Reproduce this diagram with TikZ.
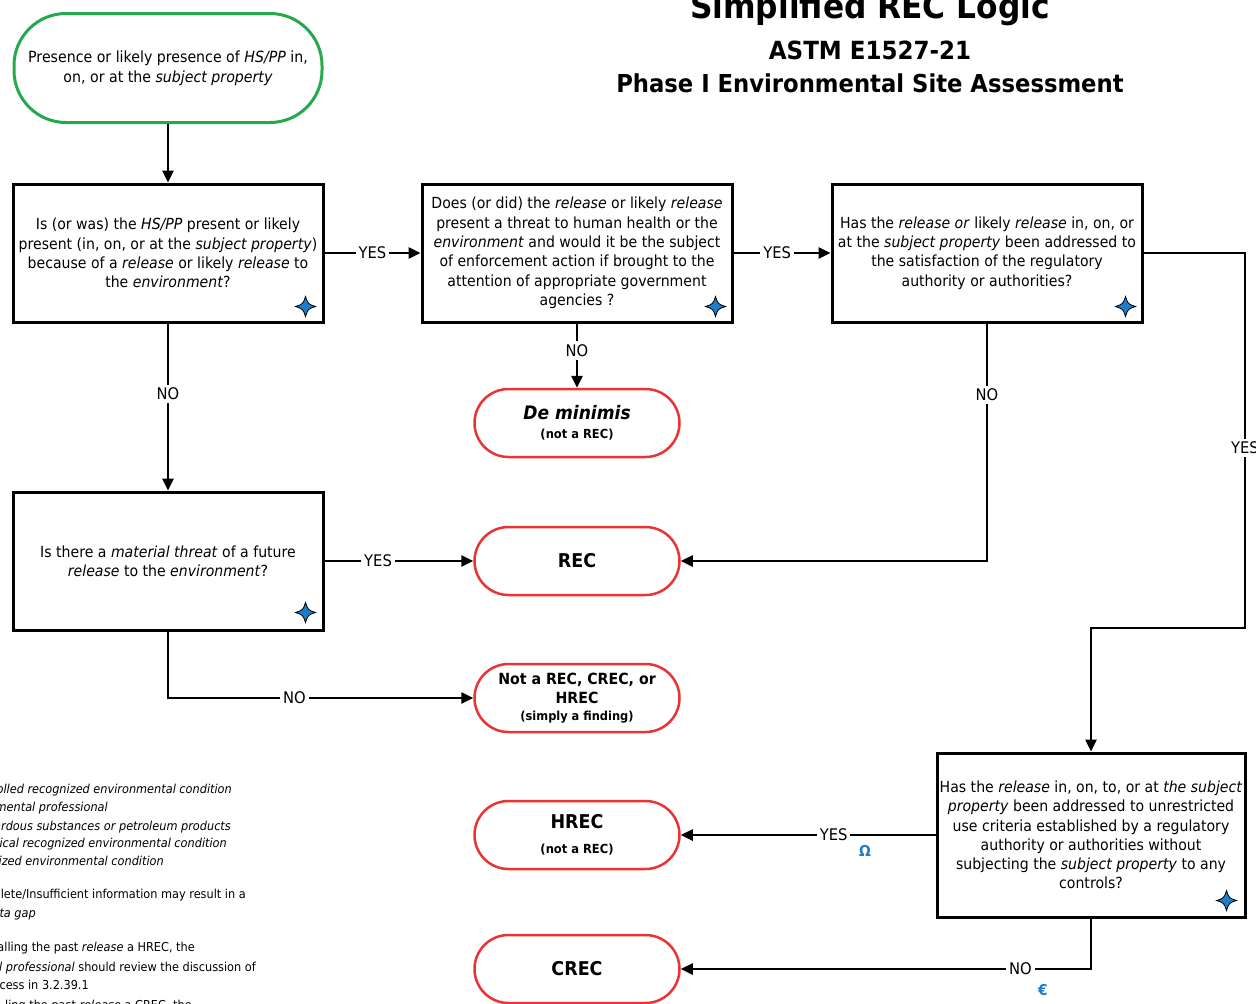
\documentclass[tikz,border=0pt]{standalone}
\usepackage{fontspec}
\setmainfont{DejaVu Sans}[FakeStretch=0.92]
\usetikzlibrary{arrows.meta}
\definecolor{recred}{RGB}{232,52,52}
\definecolor{startgreen}{RGB}{38,168,78}
\definecolor{starblue}{RGB}{30,125,200}
\tikzset{
  qbox/.style={draw=black, line width=3pt, minimum width=310pt, minimum height=138pt, inner sep=0pt, align=center, font=\fontsize{15.3}{19.3}\selectfont},
  endnode/.style={draw=recred, line width=2.5pt, rounded corners=34pt, minimum width=205pt, minimum height=68pt, inner sep=0pt, align=center, font=\bfseries},
  conn/.style={line width=2.5pt, -{Triangle[length=12pt,width=11pt]}},
  lbl/.style={fill=white, inner sep=3pt, font=\fontsize{16}{18}\selectfont},
  legend/.style={anchor=base east, inner sep=0pt, font=\fontsize{12.3}{14}\selectfont},
  sym/.style={text=starblue, font=\bfseries\fontsize{15}{16}\selectfont, inner sep=0pt},
  fourstar/.pic={\filldraw[fill=starblue, draw=black, line width=0.8pt] (0,-10) .. controls (2.5,-2.5) .. (10,0) .. controls (2.5,2.5) .. (0,10) .. controls (-2.5,2.5) .. (-10,0) .. controls (-2.5,-2.5) .. (0,-10) -- cycle;}
}
\begin{document}
\begin{tikzpicture}[x=1pt,y=-1pt]
\useasboundingbox (0,0) rectangle (1256,1004);

% titles
\node[anchor=base, inner sep=0pt, font=\bfseries\fontsize{34}{34}\selectfont] (title) at (870,18) {Simplified REC Logic};
\node[anchor=base, inner sep=0pt, font=\bfseries\fontsize{25}{25}\selectfont] (sub1) at (870,59) {ASTM E1527-21};
\node[anchor=base, inner sep=0pt, font=\bfseries\fontsize{24.7}{25}\selectfont] (sub2) at (870,92) {Phase I Environmental Site Assessment};

% start
\node[draw=startgreen, line width=3pt, rounded corners=52pt, minimum width=308pt, minimum height=109pt, inner sep=0pt, align=center, font=\fontsize{15.4}{19.5}\selectfont] (start) at (168,68)
  {Presence or likely presence of \textit{HS/PP} in,\\ on, or at the \textit{subject property}};

% question boxes
\node[qbox] (b1) at (168,253) {Is (or was) the \textit{HS/PP} present or likely\\ present (in, on, or at the \textit{subject property})\\ because of a \textit{release} or likely \textit{release} to\\ the \textit{environment}?};
\node[qbox] (b2) at (577,253) {Does (or did) the \textit{release} or likely \textit{release}\\ present a threat to human health or the\\ \textit{environment} and would it be the subject\\ of enforcement action if brought to the\\ attention of appropriate government\\ agencies ?};
\node[qbox] (b3) at (987,253) {Has the \textit{release or} likely \textit{release} in, on, or\\ at the \textit{subject property} been addressed to\\ the satisfaction of the regulatory\\ authority or authorities?};
\node[qbox] (b4) at (168,561) {Is there a \textit{material threat} of a future\\ \textit{release} to the \textit{environment}?};
\node[qbox, minimum width=308pt, minimum height=164pt] (b5) at (1091,835) {Has the \textit{release} in, on, to, or at \textit{the subject}\\ \textit{property} been addressed to unrestricted\\ use criteria established by a regulatory\\ authority or authorities without\\ subjecting the \textit{subject property} to any\\ controls?};

% end nodes
\node[endnode] (demin) at (577,423) {\itshape\fontsize{18.6}{20}\selectfont De minimis\\[7pt] \fontsize{12.5}{14}\selectfont (not a REC)};
\node[endnode] (rec) at (577,561) {\fontsize{19}{20}\selectfont REC};
\node[endnode] (notrec) at (577,698) {\fontsize{15.4}{19}\selectfont Not a REC, CREC, or\\[5pt] \fontsize{15.4}{19}\selectfont HREC\\[5pt] \fontsize{12.4}{15}\selectfont (simply a finding)};
\node[endnode] (hrec) at (577,835) {\fontsize{19}{20}\selectfont HREC\\[13pt] \fontsize{12.5}{14}\selectfont (not a REC)};
\node[endnode] (crec) at (577,969) {\fontsize{19}{20}\selectfont CREC};

% stars
\pic at ([shift={(-19,-17)}]b1.south east) {fourstar};
\pic at ([shift={(-18,-17)}]b2.south east) {fourstar};
\pic at ([shift={(-18,-17)}]b3.south east) {fourstar};
\pic at ([shift={(-19,-19)}]b4.south east) {fourstar};
\pic at ([shift={(-20,-18)}]b5.south east) {fourstar};

% connectors
\draw[conn] (start.south) -- (b1.north);
\draw[conn] (b1.east) -- node[lbl] {YES} (b2.west);
\draw[conn] (b2.east) -- node[lbl, pos=0.45] {YES} (b3.west);
\draw[conn] (b2.south) -- node[lbl, pos=0.42] {NO} (demin.north);
\draw[conn] (b1.south) -- node[lbl, pos=0.42] {NO} (b4.north);
\draw[conn] (b4.east) -- node[lbl, pos=0.36] {YES} (rec.west);
\draw[conn] (b4.south) |- node[lbl, pos=0.707] {NO} (notrec.west);
\draw[conn] (b3.south) |- node[lbl, pos=0.15] {NO} (rec.east);
\coordinate (c1) at (1245,253);
\coordinate (c2) at (1245,628);
\coordinate (c3) at (1091,628);
\draw[conn] (b3.east) -- (c1) -- node[lbl, pos=0.52] {YES} (c2) -- (c3) -- (b5.north);
\draw[conn] (b5.west) -- node[lbl, pos=0.40] (yh) {YES} (hrec.east);
\draw[conn] (b5.south) |- node[lbl, pos=0.586] (nc) {NO} (crec.east);
\node[sym] (omega) at (865,851) {Ω};
\node[sym] (euro) at (1043,990) {€};

% legend fragments (cut off at the left edge)
\node[legend] (l1) at (232,793) {\textit{olled recognized environmental condition}};
\node[legend] (l2) at (108,811) {\textit{mental professional}};
\node[legend] (l3) at (231,830) {\textit{ardous substances or petroleum products}};
\node[legend] (l4) at (227,847) {\textit{rical recognized environmental condition}};
\node[legend] (l5) at (164,865) {\textit{ized environmental condition}};
\node[legend] (l6) at (246,898) {lete/Insufficient information may result in a};
\node[legend] (l7) at (36,917) {\textit{ta gap}};
\node[legend] (l8) at (195,951) {alling the past \textit{release} a HREC, the};
\node[legend] (l9) at (256,971) {\textit{l professional} should review the discussion of};
\node[legend] (l10) at (89,989) {cess in 3.2.39.1};
\node[legend] (l11) at (192,1009) {ling the past \textit{release} a CREC, the};
\end{tikzpicture}
\end{document}
